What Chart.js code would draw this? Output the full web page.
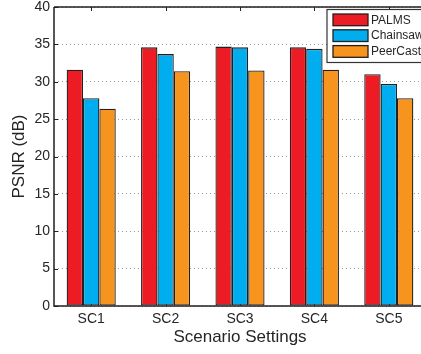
<!doctype html>
<html>
  <head>
    <title>PSNR scenario settings</title>
    <script src="https://cdn.jsdelivr.net/npm/chart.js@4.4.1/dist/chart.umd.min.js"></script>
    <style>
      html, body { margin: 0; padding: 0; overflow: hidden; background: #fff; }
      #joonis { display: block; }
    </style>
  </head>
  <body>
    <div style="width: 421px; height: 354px; overflow: hidden;">
      <canvas id="joonis" width="427" height="354"></canvas>
    </div>
    <script>
      // categories and PSNR values (dB)
      const scenarios = ['SC1', 'SC2', 'SC3', 'SC4', 'SC5'];
      const palms = [31.6, 34.6, 34.7, 34.6, 31.0];
      const chainsaw = [27.8, 33.7, 34.6, 34.4, 29.7];
      const peercast = [26.4, 31.4, 31.5, 31.6, 27.8];
      const yTicks = [0, 5, 10, 15, 20, 25, 30, 35, 40];

      const fontName = '"Liberation Sans", Arial, Helvetica, sans-serif';
      const textColor = '#262626';
      const edge = '#231f20';

      // axes box, inward ticks and a legend box in the top right corner
      const raam = {
        id: 'raam',
        beforeDatasetsDraw(chart) {
          const ctx = chart.ctx;
          const a = chart.chartArea;
          const xs = chart.scales.x, ys = chart.scales.y;
          ctx.save();
          ctx.strokeStyle = edge;
          ctx.lineWidth = 1;
          ctx.beginPath();
          ys.ticks.forEach(t => {
            const y = Math.round(ys.getPixelForValue(t.value)) + 0.5;
            ctx.moveTo(a.left, y); ctx.lineTo(a.left + 4, y);
          });
          scenarios.forEach((s, i) => {
            const x = Math.round(xs.getPixelForValue(i)) + 0.5;
            ctx.moveTo(x, a.top); ctx.lineTo(x, a.top + 4);
            ctx.moveTo(x, a.bottom); ctx.lineTo(x, a.bottom - 4);
          });
          ctx.stroke();
          ctx.restore();
        },
        afterDatasetsDraw(chart) {
          const ctx = chart.ctx;
          const a = chart.chartArea;
          ctx.save();
          ctx.strokeStyle = edge;
          ctx.lineWidth = 1.5;
          ctx.beginPath();
          ctx.moveTo(a.left, a.top); ctx.lineTo(a.right, a.top);
          ctx.lineTo(a.right, a.bottom);
          ctx.moveTo(a.left, a.top); ctx.lineTo(a.left, a.bottom);
          ctx.lineTo(a.right, a.bottom);
          ctx.stroke();

          // legend
          const lx = 327, ly = 9.5, lw = 110, lh = 53;
          ctx.fillStyle = '#fff';
          ctx.fillRect(lx, ly, lw, lh);
          ctx.lineWidth = 1.2;
          ctx.strokeStyle = '#333';
          ctx.strokeRect(lx, ly, lw, lh);
          ctx.font = '12px ' + fontName;
          ctx.textBaseline = 'middle';
          chart.data.datasets.forEach((ds, i) => {
            const sy = 14 + i * 15.8;
            ctx.fillStyle = ds.backgroundColor;
            ctx.fillRect(333, sy, 35, 11.7);
            ctx.lineWidth = 1.3;
            ctx.strokeStyle = edge;
            ctx.strokeRect(333, sy, 35, 11.7);
            ctx.fillStyle = textColor;
            ctx.fillText(ds.label, 371, sy + 6.2);
          });
          ctx.restore();
        }
      };

      const joonis = new Chart(document.getElementById('joonis'), {
        type: 'bar',
        data: {
          labels: scenarios,
          datasets: [
            { label: 'PALMS', data: palms, backgroundColor: '#ed1c24' },
            { label: 'Chainsaw', data: chainsaw, backgroundColor: '#00aeef' },
            { label: 'PeerCast', data: peercast, backgroundColor: '#f7941d' }
          ]
        },
        options: {
          responsive: false,
          animation: false,
          devicePixelRatio: 1,
          layout: { padding: { top: 7, right: 1, left: 0, bottom: 0 } },
          datasets: {
            bar: {
              borderColor: edge,
              borderWidth: 1.3,
              borderSkipped: false,
              categoryPercentage: 0.66,
              barPercentage: 1
            }
          },
          plugins: {
            legend: { display: false },
            tooltip: { enabled: false }
          },
          scales: {
            x: {
              grid: { display: false },
              border: { display: false },
              ticks: { color: textColor, font: { family: fontName, size: 14 }, padding: -3 },
              title: {
                display: true,
                text: 'Scenario Settings',
                color: textColor,
                font: { family: fontName, size: 17 },
                padding: { top: 0, bottom: 6 }
              },
              afterFit(scale) {
                scale.height = 48;
                scale.paddingLeft = 0;
                scale.paddingRight = 0;
              }
            },
            y: {
              min: 0,
              max: 40,
              afterBuildTicks(scale) { scale.ticks = yTicks.map(v => ({ value: v })); },
              grid: { color: '#9a9a9a', lineWidth: 1, drawTicks: false },
              border: { display: false, dash: [1, 3] },
              ticks: { color: textColor, font: { family: fontName, size: 14 }, padding: 4 },
              title: {
                display: true,
                text: 'PSNR (dB)',
                color: textColor,
                font: { family: fontName, size: 17 },
                padding: { top: 9, bottom: 0 }
              },
              afterFit(scale) {
                scale.width = 54;
                scale.paddingTop = 0;
                scale.paddingBottom = 0;
              }
            }
          }
        },
        plugins: [raam]
      });
    </script>
  </body>
</html>
